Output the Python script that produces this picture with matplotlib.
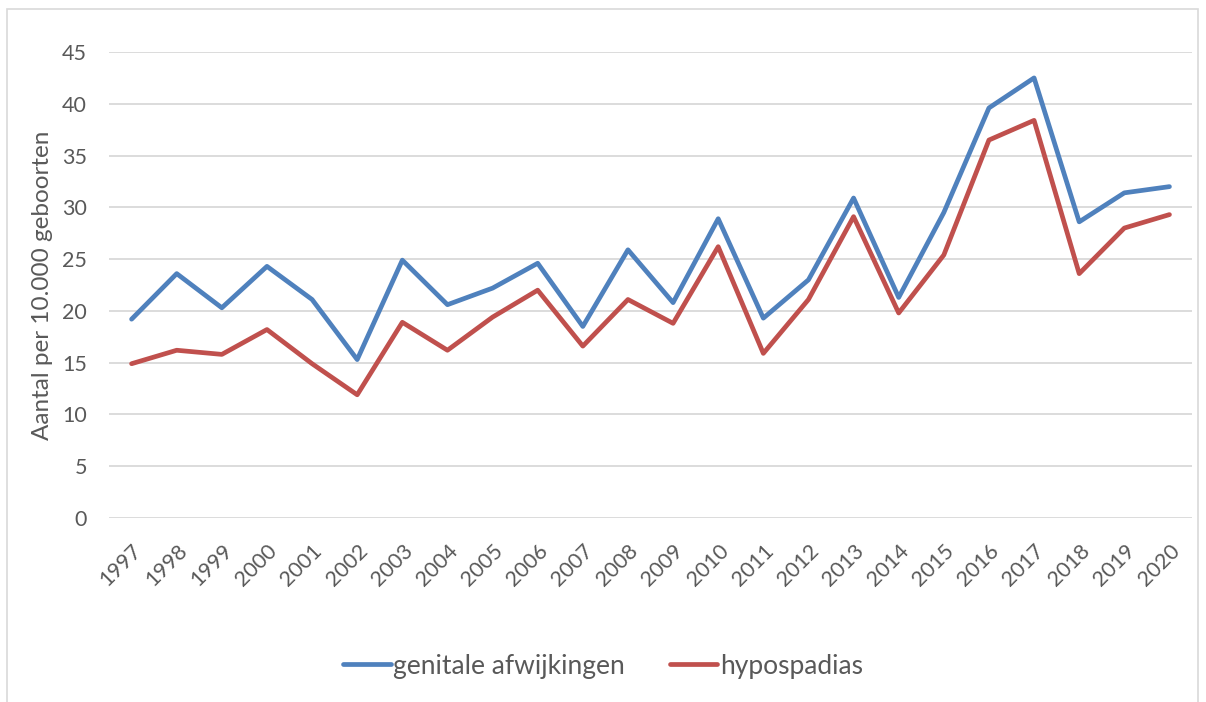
import matplotlib.pyplot as plt
from matplotlib.patches import Rectangle

jaren = [str(j) for j in range(1997, 2021)]
genitaal = [19.2, 23.6, 20.3, 24.3, 21.1, 15.3, 24.9, 20.6, 22.2, 24.6, 18.5, 25.9,
            20.8, 28.9, 19.3, 23.0, 30.9, 21.3, 29.5, 39.6, 42.5, 28.6, 31.4, 32.0]
hypospadias = [14.9, 16.2, 15.8, 18.2, 14.9, 11.9, 18.9, 16.2, 19.4, 22.0, 16.6, 21.1,
               18.8, 26.2, 15.9, 21.1, 29.1, 19.8, 25.4, 36.5, 38.4, 23.6, 28.0, 29.3]

plt.rcParams['font.family'] = ['Lato', 'DejaVu Sans']

fig = plt.figure(figsize=(12.06, 7.02), dpi=100)
ax = fig.add_axes([0.0904, 0.2621, 0.8980, 0.6638])

x = range(len(jaren))
ax.plot(x, genitaal, color="#4f81bd", lw=3.4, solid_joinstyle="round",
        solid_capstyle="round", label="genitale afwijkingen")
ax.plot(x, hypospadias, color="#c0504d", lw=3.4, solid_joinstyle="round",
        solid_capstyle="round", label="hypospadias")

ax.set_xlim(-0.5, len(jaren) - 0.5)
ax.set_ylim(0, 45)
ax.set_yticks(range(0, 46, 5))
ax.set_xticks(list(x))
ax.set_xticklabels(jaren, rotation=45, ha="right", rotation_mode="anchor")
ax.tick_params(length=0, labelsize=15.5, colors="#595959")
ax.tick_params(axis="x", pad=16)
ax.tick_params(axis="y", pad=16)
ax.grid(axis="y", color="#d9d9d9", lw=1.3)
ax.set_axisbelow(True)
for s in ax.spines.values():
    s.set_visible(False)

ax.set_ylabel("Aantal per 10.000 geboorten", fontsize=17.5, color="#595959", labelpad=6)

fig.legend(loc="center", bbox_to_anchor=(0.5, 0.051), ncol=2, frameon=False,
           fontsize=19, labelcolor="#595959", handlelength=1.8, handletextpad=0.1,
           columnspacing=1.7)

fig.patches.append(Rectangle((7 / 1206, -0.01), 1191 / 1206, 1 - 9 / 702 + 0.01,
                             transform=fig.transFigure, fill=False,
                             edgecolor="#d9d9d9", lw=1.2))

fig.savefig("out.png", dpi=100)
